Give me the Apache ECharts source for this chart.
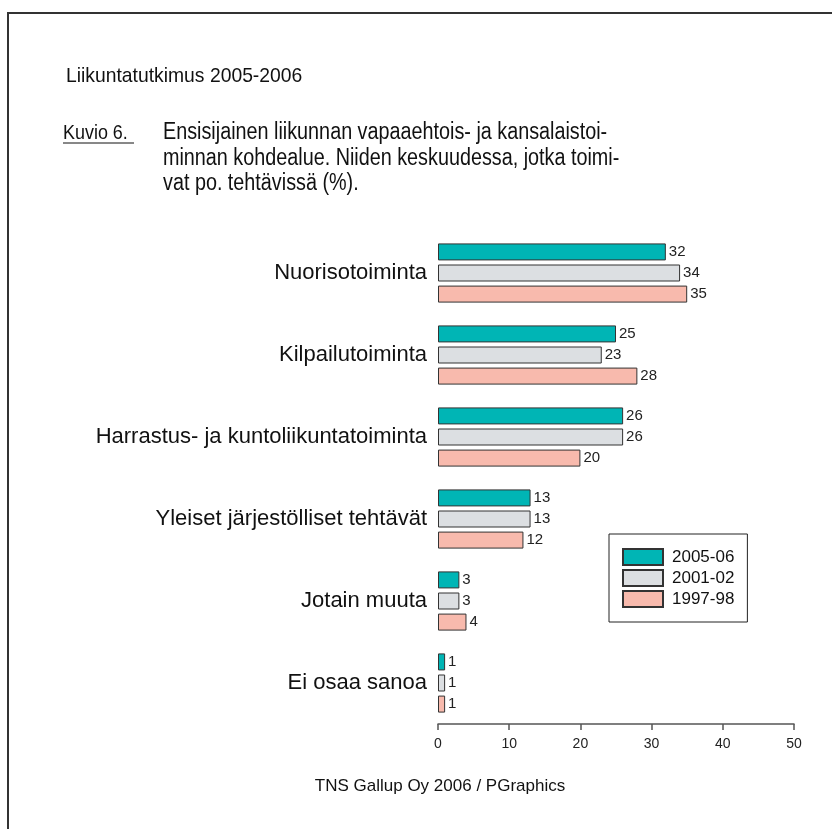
<!DOCTYPE html>
<html>
<head>
<meta charset="utf-8">
<script src="https://cdn.jsdelivr.net/npm/echarts@6/dist/echarts.min.js"></script>
<style>
  html, body { margin: 0; padding: 0; background: #fff; }
  #main { width: 832px; height: 829px; }
</style>
</head>
<body>
<div id="main"></div>
<script>
var categories = ['Nuorisotoiminta', 'Kilpailutoiminta', 'Harrastus- ja kuntoliikuntatoiminta',
	'Yleiset järjestölliset tehtävät', 'Jotain muuta', 'Ei osaa sanoa'];
var years = ['2005-06', '2001-02', '1997-98'];
var v2005 = [32, 25, 26, 13, 3, 1];
var v2001 = [34, 23, 26, 13, 3, 1];
var v1997 = [35, 28, 20, 12, 4, 1];
var colors = ['#00b5b5', '#dcdfe2', '#f8baad'];
var xTicks = [0, 10, 20, 30, 40, 50];

var font = '"Liberation Sans", Arial, Helvetica, sans-serif';
var myChart = echarts.init(document.getElementById('main'));

var makeSeries = function(name, values, color) {
	return {
		name: name,
		type: 'bar',
		data: values,
		barWidth: 17,
		barGap: '24%',
		itemStyle: { color: color, borderColor: '#333', borderWidth: 1 },
		label: {
			show: true,
			position: 'right',
			distance: 3,
			color: '#222',
			fontFamily: font,
			fontSize: 15
		}
	};
};

var option = {
	backgroundColor: '#fff',
	animation: false,
	grid: { left: 438, right: 38, top: 232, bottom: 105 },
	xAxis: {
		type: 'value',
		min: xTicks[0],
		max: xTicks[xTicks.length - 1],
		interval: 10,
		splitLine: { show: false },
		axisLine: { show: true, lineStyle: { color: '#555', width: 1.5 } },
		axisTick: { show: true, length: 6, lineStyle: { color: '#555', width: 1.5 } },
		axisLabel: { margin: 13, color: '#222', fontFamily: font, fontSize: 14 }
	},
	yAxis: {
		type: 'category',
		data: categories,
		inverse: true,
		axisLine: { show: false },
		axisTick: { show: false },
		axisLabel: { margin: 11, color: '#111', fontFamily: font, fontSize: 22 }
	},
	legend: {
		data: years,
		orient: 'vertical',
		left: 609,
		top: 534,
		itemWidth: 40,
		itemHeight: 16,
		itemGap: 3,
		padding: [14, 13, 14, 13],
		borderColor: '#222',
		borderWidth: 1,
		icon: 'rect',
		textStyle: { color: '#111', fontFamily: font, fontSize: 17, padding: [0, 0, 0, 4] }
	},
	graphic: [
		{ type: 'polyline', shape: { points: [[8, 829], [8, 13], [832, 13]] },
			style: { stroke: '#333', lineWidth: 2, fill: null } },
		{ type: 'text', x: 66, y: 76, scaleX: 0.92, style: { x: 0, y: 0, text: 'Liikuntatutkimus 2005-2006',
			font: '21px ' + font, fill: '#111', verticalAlign: 'middle' } },
		{ type: 'text', x: 63, y: 134, scaleX: 0.92, style: { x: 0, y: 0, text: 'Kuvio 6.',
			font: '19.5px ' + font, fill: '#111', verticalAlign: 'middle' } },
		{ type: 'line', shape: { x1: 63, y1: 143, x2: 134, y2: 143 },
			style: { stroke: '#111', lineWidth: 1 } },
		{ type: 'text', x: 163, y: 120, scaleX: 0.86, style: { x: 0, y: 0,
			text: 'Ensisijainen liikunnan vapaaehtois- ja kansalaistoi-\nminnan kohdealue. Niiden keskuudessa, jotka toimi-\nvat po. tehtävissä (%).',
			font: '23px ' + font, fill: '#111', verticalAlign: 'top', lineHeight: 25.5 } },
		{ type: 'text', style: { x: 440, y: 786, text: 'TNS Gallup Oy 2006 / PGraphics',
			font: '17px ' + font, fill: '#111', align: 'center', verticalAlign: 'middle' } }
	],
	series: [
		makeSeries(years[0], v2005, colors[0]),
		makeSeries(years[1], v2001, colors[1]),
		makeSeries(years[2], v1997, colors[2])
	]
};

myChart.setOption(option);
</script>
</body>
</html>
